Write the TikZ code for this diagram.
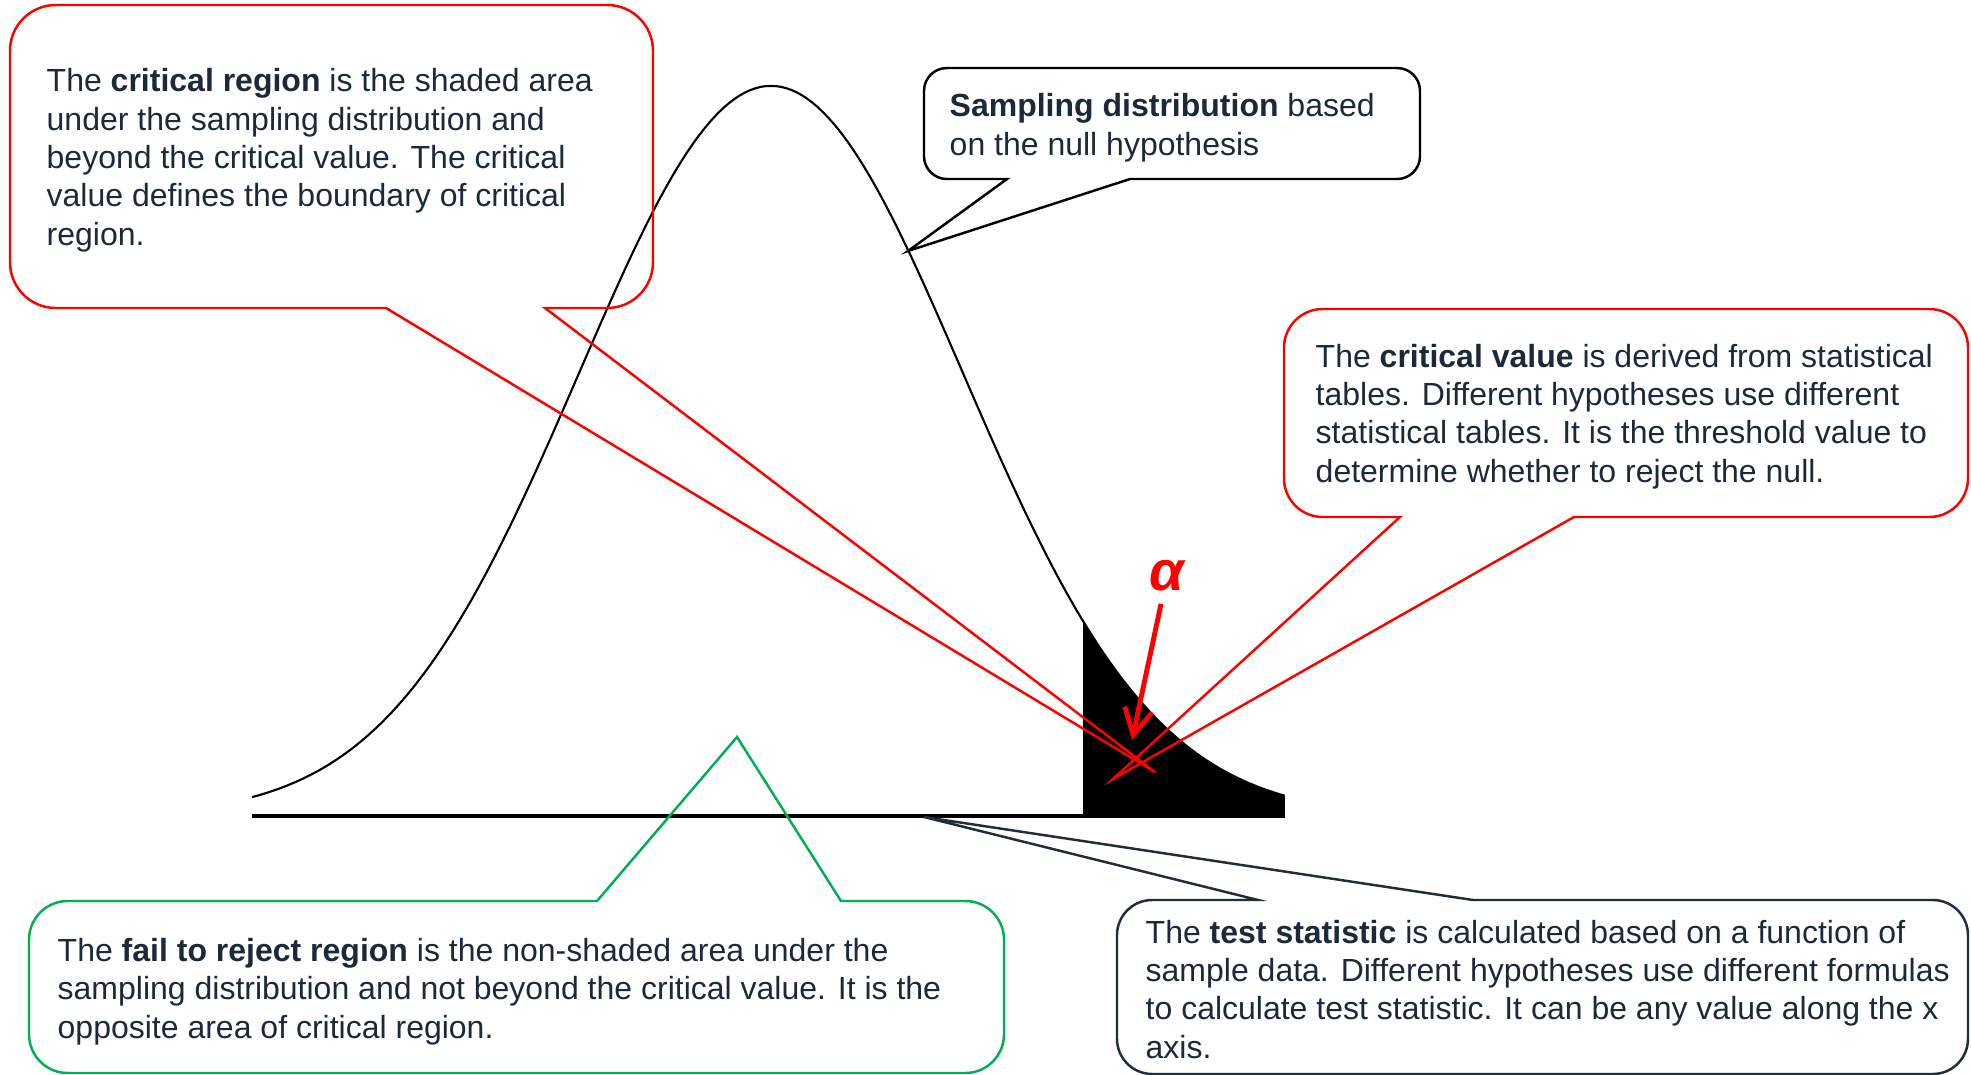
\documentclass[tikz,border=0pt]{standalone}
\usepackage{fontspec}
\setmainfont{Liberation Sans}
\usepackage{xcolor}
\definecolor{critred}{HTML}{FF0000}
\definecolor{keepgreen}{HTML}{00B050}
\definecolor{statnavy}{HTML}{1F2D3D}
\definecolor{bodyink}{HTML}{1B2A3B}
\usetikzlibrary{arrows.meta}
\tikzset{
  note/.style     ={align=left, inner sep=0pt, anchor=base west, text=bodyink,
                    font=\fontsize{9.1}{10.9}\selectfont},
  redcall/.style  ={draw=critred, line width=0.7pt},
  blackcall/.style={draw=black, line width=0.7pt},
  greencall/.style={draw=keepgreen, line width=0.7pt},
  navycall/.style ={draw=statnavy, line width=0.7pt},
  density/.style  ={black, line width=0.6pt},
  xaxis/.style    ={black, line width=1.1pt},
  alphaarr/.style ={-{Straight Barb[length=2.6mm,width=2.8mm]}, critred, line width=1.4pt},
}
% callout box, tail on the lower side: style, left, top, right, bottom, tail x1, tail x2, tip, radius
\newcommand{\calldown}[9]{%
  \draw[#1] ({(#2+#4)/2},#3) [rounded corners=#9] -- (#4,#3) -- (#4,#5)
    [sharp corners] -- (#7,#5) -- (#8) -- (#6,#5)
    [rounded corners=#9] -- (#2,#5) -- (#2,#3) -- cycle;}
% callout box, tail on the upper side
\newcommand{\callup}[9]{%
  \draw[#1] ({(#2+#4)/2},#5) [rounded corners=#9] -- (#2,#5) -- (#2,#3)
    [sharp corners] -- (#6,#3) -- (#8) -- (#7,#3)
    [rounded corners=#9] -- (#4,#3) -- (#4,#5) -- cycle;}

\begin{document}
\begin{tikzpicture}[x=0.01cm, y=-0.01cm]
  \useasboundingbox (0,0) rectangle (1971,1075);

  % sampling distribution and critical region
  \fill[black] (1083,816) -- plot[domain=1.625:2.677, samples=60]
    ({771+192*\x},{816-730*exp(-0.5*\x*\x)}) -- (1285,816) -- cycle;
  \draw[density] plot[domain=-2.703:2.677, samples=200]
    ({771+192*\x},{816-730*exp(-0.5*\x*\x)});
  \draw[xaxis] (252,816) -- (1285,816);

  % tips of the callouts
  \coordinate (regionTip) at (1155,772);
  \coordinate (distTip)   at (908,251);
  \coordinate (valueTip)  at (1113,779);
  \coordinate (failTip)   at (737,737);
  \coordinate (statTip)   at (924,817);
  \coordinate (alphaTip)  at (1132,740);

  \calldown{redcall}{10}{5}{653}{308}{386}{545}{regionTip}{13pt}
  \calldown{blackcall}{924}{68}{1420}{179}{1007}{1130}{distTip}{6.5pt}
  \calldown{redcall}{1284}{309}{1968}{517}{1400}{1574}{valueTip}{11pt}
  \callup{greencall}{29}{901}{1004}{1073}{597}{841}{failTip}{11pt}
  \callup{navycall}{1117}{900}{1968}{1074}{1258}{1473}{statTip}{10pt}

  % texts, placed at the baseline of their last line
  \node[note] (regionText) at (46,245) {The \textbf{critical region} is the shaded area\\under the sampling distribution and\\beyond the critical value. The critical\\value defines the boundary of critical\\region.};
  \node[note] (distText) at (949,155) {\textbf{Sampling distribution} based\\on the null hypothesis};
  \node[note] (valueText) at (1315,482) {The \textbf{critical value} is derived from statistical\\tables. Different hypotheses use different\\statistical tables. It is the threshold value to\\determine whether to reject the null.};
  \node[note] (failText) at (57,1038) {The \textbf{fail to reject region} is the non-shaded area under the\\sampling distribution and not beyond the critical value. It is the\\opposite area of critical region.};
  \node[note] (statText) at (1145,1058) {The \textbf{test statistic} is calculated based on a function of\\sample data. Different hypotheses use different formulas\\to calculate test statistic. It can be any value along the x\\axis.};

  \node[text=critred, font=\fontsize{16}{16}\selectfont\bfseries\itshape] (alpha) at (1167,576) {α};
  \draw[alphaarr] (alpha) -- (alphaTip);
\end{tikzpicture}
\end{document}
